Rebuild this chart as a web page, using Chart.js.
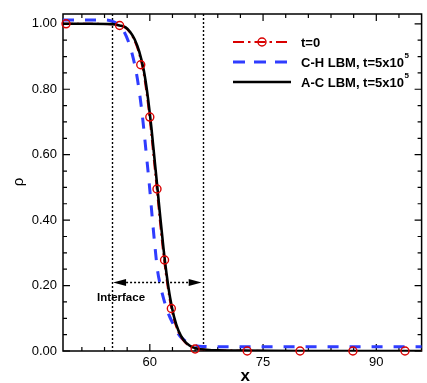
<!DOCTYPE html>
<html><head><meta charset="utf-8">
<script src="https://cdn.jsdelivr.net/npm/chart.js@4"></script>
<style>html,body{margin:0;padding:0;background:#fff}#wrap{width:427px;height:383px}</style>
</head><body><div id="wrap"><canvas id="c" width="427" height="383"></canvas></div>
<script>
// ---- data ----
const acX = [48.5, 52, 55, 56, 56.8, 57.4, 58.0, 58.6, 59.2, 59.7, 60.2, 60.6, 61.0, 61.4, 61.8, 62.2, 62.7, 63.2, 63.8, 64.5, 65.3, 66.3, 67.5, 69, 72, 80, 96];
const acY = [1.000, 1.000, 0.999, 0.995, 0.989, 0.975, 0.952, 0.915, 0.858, 0.783, 0.684, 0.592, 0.500, 0.405, 0.316, 0.239, 0.161, 0.105, 0.062, 0.033, 0.016, 0.007, 0.004, 0.002, 0.001, 0.000, 0.000];

const t0X = [48.5, 52, 55, 55.9, 56.7, 57.3, 57.9, 58.5, 59.1, 59.6, 60.1, 60.5, 60.9, 61.3, 61.7, 62.1, 62.6, 63.1, 63.7, 64.4, 65.2, 66.2, 67.4, 68.9, 72, 80, 96];
const t0Y = [1.000, 1.000, 0.999, 0.995, 0.989, 0.975, 0.952, 0.915, 0.858, 0.783, 0.684, 0.592, 0.500, 0.405, 0.316, 0.239, 0.161, 0.105, 0.062, 0.033, 0.016, 0.007, 0.004, 0.002, 0.001, 0.000, 0.000];

const t0MarkX = [48.9, 56.0, 58.8, 60.0, 60.95, 61.95, 62.85, 66.0, 72.9, 79.9, 86.9, 93.8];
const t0MarkY = [1.000, 0.995, 0.875, 0.715, 0.495, 0.278, 0.130, 0.006, 0.000, 0.000, 0.000, 0.000];

const chX = [48.5, 54.0, 55.0, 55.8, 56.5, 57.3, 57.8, 58.2, 58.6, 59.0, 59.5, 59.95, 60.35, 60.7, 61.0, 61.4, 61.85, 62.5, 63.15, 63.7, 64.2, 65.0, 65.75, 67, 70, 96];
const chY = [1.012, 1.012, 1.008, 0.998, 0.980, 0.937, 0.895, 0.852, 0.794, 0.722, 0.610, 0.505, 0.400, 0.315, 0.250, 0.200, 0.158, 0.112, 0.080, 0.055, 0.040, 0.026, 0.018, 0.014, 0.013, 0.013];

const xMajorTicks = [60, 75, 90];
const xMinorTicks = [51, 54, 57, 63, 66, 69, 72, 78, 81, 84, 87, 93];
const yMajorTicks = [0, 0.2, 0.4, 0.6, 0.8, 1.0];
const yMinorTicks = [0.05, 0.1, 0.15, 0.25, 0.3, 0.35, 0.45, 0.5, 0.55, 0.65, 0.7, 0.75, 0.85, 0.9, 0.95];
const interfaceBounds = [55, 67];
const interfaceArrowY = 0.21;
const legendLabels = ['t=0', 'C-H LBM, t=5x10', 'A-C LBM, t=5x10'];
const legendSup = ['', '5', '5'];

const RED = '#d90000', BLUE = '#2f3cff', BLACK = '#000000';
const FONT = '"Liberation Sans", Arial, Helvetica, sans-serif';

function pts(xs, ys){ return xs.map((x,i)=>({x:x, y:ys[i]})); }

const decor = {
  id: 'decor',
  beforeDatasetsDraw(chart){
    const {ctx, chartArea:a, scales:{x, y}} = chart;
    ctx.save();
    // frame
    ctx.strokeStyle = '#000'; ctx.lineWidth = 1.5;
    ctx.strokeRect(a.left, a.top, a.right - a.left, a.bottom - a.top);
    // inward ticks
    ctx.lineWidth = 1.2;
    const tick = (v, len, axis) => {
      if (axis === 'x') {
        const px = x.getPixelForValue(v);
        ctx.beginPath(); ctx.moveTo(px, a.bottom); ctx.lineTo(px, a.bottom - len);
        ctx.moveTo(px, a.top); ctx.lineTo(px, a.top + len); ctx.stroke();
      } else {
        const py = y.getPixelForValue(v);
        ctx.beginPath(); ctx.moveTo(a.left, py); ctx.lineTo(a.left + len, py);
        ctx.moveTo(a.right, py); ctx.lineTo(a.right - len, py); ctx.stroke();
      }
    };
    xMajorTicks.forEach(v=>tick(v, 7, 'x'));
    xMinorTicks.forEach(v=>tick(v, 4, 'x'));
    yMajorTicks.forEach(v=>tick(v, 7, 'y'));
    yMinorTicks.forEach(v=>tick(v, 4, 'y'));
    // interface dotted lines
    ctx.setLineDash([2, 2]); ctx.lineWidth = 1.4;
    interfaceBounds.forEach(v => {
      const px = Math.round(x.getPixelForValue(v)) + 0.5;
      ctx.beginPath(); ctx.moveTo(px, a.top); ctx.lineTo(px, a.bottom); ctx.stroke();
    });
    const x1 = x.getPixelForValue(interfaceBounds[0]), x2 = x.getPixelForValue(interfaceBounds[1]);
    const ay = Math.round(y.getPixelForValue(interfaceArrowY)) + 0.5;
    ctx.beginPath(); ctx.moveTo(x1 + 10, ay); ctx.lineTo(x2 - 10, ay); ctx.stroke();
    ctx.setLineDash([]);
    ctx.fillStyle = '#000';
    ctx.beginPath(); ctx.moveTo(x1 + 1, ay); ctx.lineTo(x1 + 14, ay - 3.5); ctx.lineTo(x1 + 14, ay + 3.5); ctx.closePath(); ctx.fill();
    ctx.beginPath(); ctx.moveTo(x2 - 1, ay); ctx.lineTo(x2 - 14, ay - 3.5); ctx.lineTo(x2 - 14, ay + 3.5); ctx.closePath(); ctx.fill();
    ctx.font = 'bold 11.5px ' + FONT; ctx.textAlign = 'center'; ctx.textBaseline = 'middle';
    ctx.fillText('Interface', x1 + 9, ay + 15);
    ctx.restore();
  },
  afterDraw(chart){
    const {ctx, chartArea:a} = chart;
    ctx.save();
    // axis titles
    ctx.fillStyle = '#000';
    ctx.font = 'bold 17px ' + FONT; ctx.textAlign = 'center'; ctx.textBaseline = 'middle';
    ctx.fillText('x', (a.left + a.right) / 2 + 3, 376);
    ctx.save(); ctx.translate(19, 182); ctx.rotate(-Math.PI / 2);
    ctx.font = '15px ' + FONT; ctx.fillText('ρ', 0, 0); ctx.restore();
    // legend
    const lx1 = 233, lx2 = 291, tx = 301;
    const rows = [42, 62, 82];
    // row 1: red dash-dot + circle
    ctx.strokeStyle = RED; ctx.lineWidth = 2.2; ctx.setLineDash([11, 4, 2.5, 4]);
    ctx.beginPath(); ctx.moveTo(lx1, rows[0]); ctx.lineTo(lx2, rows[0]); ctx.stroke();
    ctx.setLineDash([]); ctx.lineWidth = 1.4;
    ctx.beginPath(); ctx.arc(262, rows[0], 4, 0, Math.PI * 2); ctx.stroke();
    // row 2: blue dashed
    ctx.strokeStyle = BLUE; ctx.lineWidth = 3; ctx.setLineDash([12, 9]);
    ctx.beginPath(); ctx.moveTo(lx1, rows[1]); ctx.lineTo(lx2, rows[1]); ctx.stroke();
    ctx.setLineDash([]);
    // row 3: black solid
    ctx.strokeStyle = BLACK; ctx.lineWidth = 2.5;
    ctx.beginPath(); ctx.moveTo(lx1, rows[2]); ctx.lineTo(lx2, rows[2]); ctx.stroke();
    // text
    ctx.textAlign = 'left'; ctx.textBaseline = 'middle'; ctx.fillStyle = '#000';
    legendLabels.forEach((t, i) => {
      ctx.font = 'bold 13px ' + FONT;
      ctx.fillText(t, tx, rows[i] + 1);
      if (legendSup[i]) {
        const w = ctx.measureText(t).width;
        ctx.font = 'bold 8px ' + FONT;
        ctx.fillText(legendSup[i], tx + w + 0.5, rows[i] - 6);
      }
    });
    ctx.restore();
  }
};

new Chart(document.getElementById('c'), {
  type: 'scatter',
  data: {
    datasets: [
      { label: 't=0 markers', data: pts(t0MarkX, t0MarkY), showLine: false, pointStyle: 'circle',
        pointRadius: 4, pointBorderWidth: 1.4, pointBorderColor: RED, pointBackgroundColor: 'rgba(0,0,0,0)', clip: false },
      { label: legendLabels[2], data: pts(acX, acY), showLine: true, borderColor: BLACK, borderWidth: 2.6,
        pointRadius: 0, cubicInterpolationMode: 'monotone' },
      { label: legendLabels[0], data: pts(t0X, t0Y), showLine: true, borderColor: RED, borderWidth: 2,
        borderDash: [10, 4, 2, 4], pointRadius: 0, cubicInterpolationMode: 'monotone' },
      { label: legendLabels[1], data: pts(chX, chY), showLine: true, borderColor: BLUE, borderWidth: 3,
        borderDash: [11, 11], pointRadius: 0, cubicInterpolationMode: 'monotone', clip: false }
    ]
  },
  options: {
    responsive: false, animation: false, devicePixelRatio: 1,
    layout: { padding: { top: 14, right: 1, left: 0, bottom: 0 } },
    plugins: { legend: { display: false }, tooltip: { enabled: false } },
    scales: {
      x: {
        type: 'linear', min: 48.5, max: 96, position: 'bottom',
        grid: { display: false, drawTicks: false, tickLength: 0 }, border: { display: false },
        afterBuildTicks: s => { s.ticks = xMajorTicks.map(v => ({ value: v })); },
        afterFit: s => { s.height = 32; },
        ticks: { color: '#000', font: { family: FONT, size: 13 }, padding: 4, maxRotation: 0, autoSkip: false }
      },
      y: {
        type: 'linear', min: 0, max: 1.03,
        grid: { display: false, drawTicks: false, tickLength: 0 }, border: { display: false },
        afterBuildTicks: s => { s.ticks = yMajorTicks.map(v => ({ value: v })); },
        afterFit: s => { s.width = 63; },
        ticks: { color: '#000', font: { family: FONT, size: 13 }, padding: 6, autoSkip: false,
          callback: v => Number(v).toFixed(2) }
      }
    }
  },
  plugins: [decor]
});
</script>
</body></html>
